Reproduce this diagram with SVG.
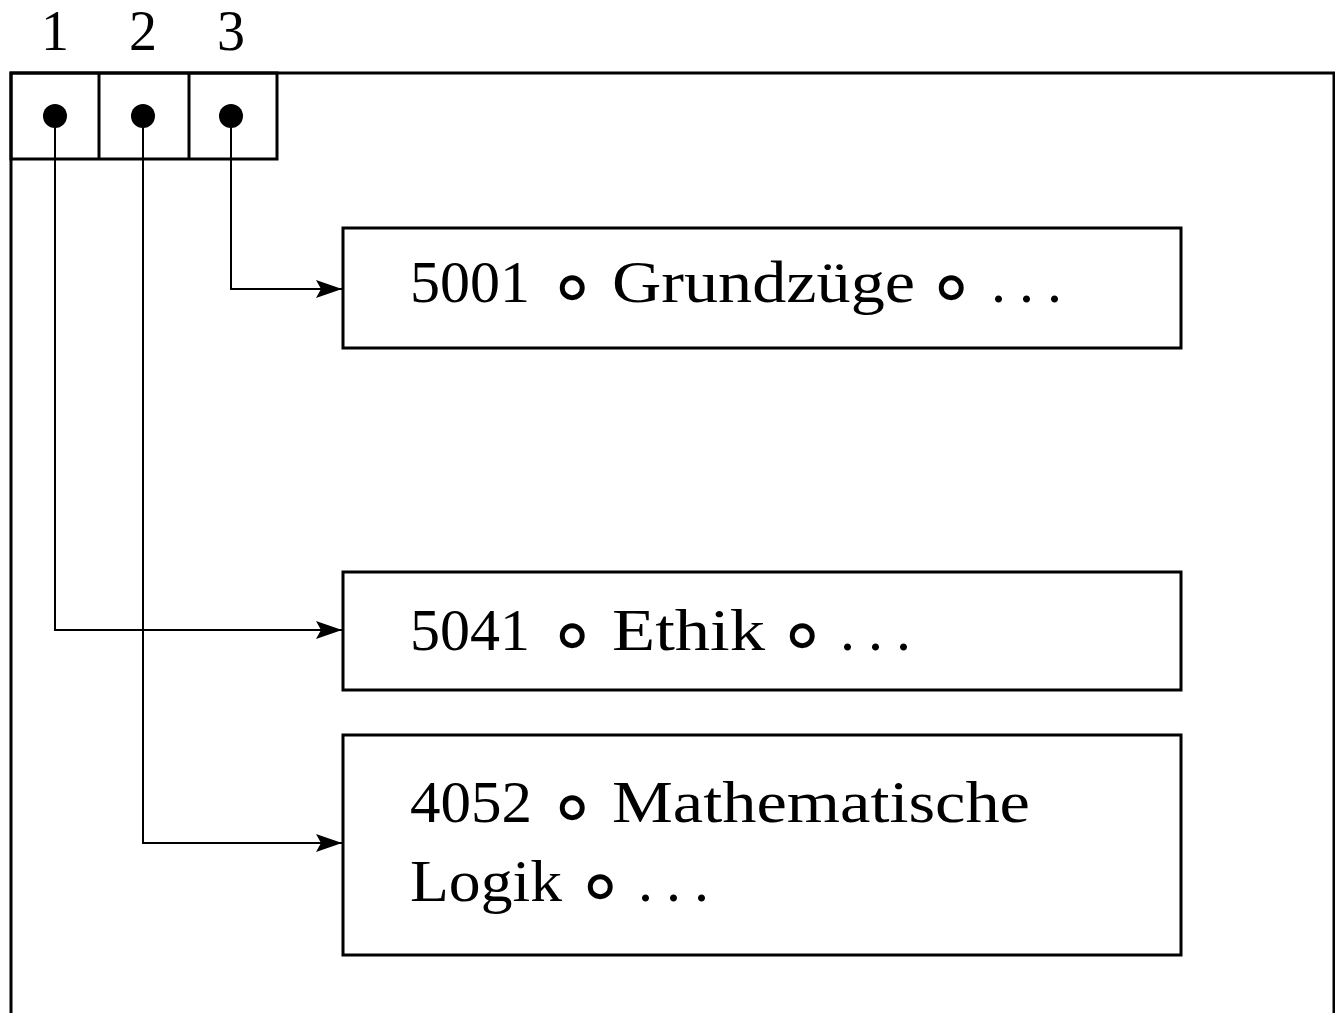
<svg xmlns="http://www.w3.org/2000/svg" width="1335" height="1013" viewBox="0 0 1335 1013">
<style>
.frame{fill:none;stroke:#000;stroke-width:3}
.box{fill:#fff;stroke:#000;stroke-width:3}
.conn{fill:none;stroke:#000;stroke-width:2}
.t{font-family:"Liberation Serif","DejaVu Serif",serif;font-size:60px;fill:#000}
.c{font-family:"DejaVu Sans","Liberation Serif",serif;font-size:80px;fill:#000;text-anchor:middle}
.n{font-family:"Liberation Serif","DejaVu Serif",serif;font-size:56px;fill:#000;text-anchor:middle}
</style>
<defs>
<marker id="arr" markerWidth="26" markerHeight="18" refX="26" refY="9" markerUnits="userSpaceOnUse" orient="auto">
<path d="M0,0 L26,9 L0,18 L5,9 Z" fill="#000"/>
</marker>
</defs>
<g id="frame">
<polyline class="frame" points="11,1013 11,73 1334,73 1334,1013"/>
</g>
<g id="array">
<rect class="frame" x="11" y="73" width="266" height="86"/>
<line class="frame" x1="99" y1="73" x2="99" y2="159"/>
<line class="frame" x1="189" y1="73" x2="189" y2="159"/>
<text class="n" x="55" y="50">1</text>
<text class="n" x="143" y="50">2</text>
<text class="n" x="231" y="50">3</text>
<circle cx="55" cy="116" r="12"/>
<circle cx="143" cy="116" r="12"/>
<circle cx="231" cy="116" r="12"/>
</g>
<g id="connectors">
<polyline class="conn" points="231,116 231,289 342,289" marker-end="url(#arr)"/>
<polyline class="conn" points="55,116 55,630 342,630" marker-end="url(#arr)"/>
<polyline class="conn" points="143,116 143,843 342,843" marker-end="url(#arr)"/>
</g>
<g id="node1">
<rect class="box" x="343" y="228" width="838" height="120"/>
<text class="t" x="410" y="302" textLength="120" lengthAdjust="spacingAndGlyphs">5001</text>
<text class="c" x="572" y="313">∘</text>
<text class="t" x="612" y="302" textLength="303" lengthAdjust="spacingAndGlyphs">Grundzüge</text>
<text class="c" x="951" y="313">∘</text>
<text class="t" x="991 1019 1047" y="302">...</text>
</g>
<g id="node2">
<rect class="box" x="343" y="572" width="838" height="118"/>
<text class="t" x="410" y="650" textLength="120" lengthAdjust="spacingAndGlyphs">5041</text>
<text class="c" x="572" y="661">∘</text>
<text class="t" x="612" y="650" textLength="153" lengthAdjust="spacingAndGlyphs">Ethik</text>
<text class="c" x="802" y="661">∘</text>
<text class="t" x="840 868 896" y="650">...</text>
</g>
<g id="node3">
<rect class="box" x="343" y="735" width="838" height="220"/>
<text class="t" x="410" y="822" textLength="122" lengthAdjust="spacingAndGlyphs">4052</text>
<text class="c" x="572" y="833">∘</text>
<text class="t" x="612" y="822" textLength="418" lengthAdjust="spacingAndGlyphs">Mathematische</text>
<text class="t" x="410" y="901" textLength="152" lengthAdjust="spacingAndGlyphs">Logik</text>
<text class="c" x="600" y="912">∘</text>
<text class="t" x="638 666 694" y="901">...</text>
</g>
</svg>
